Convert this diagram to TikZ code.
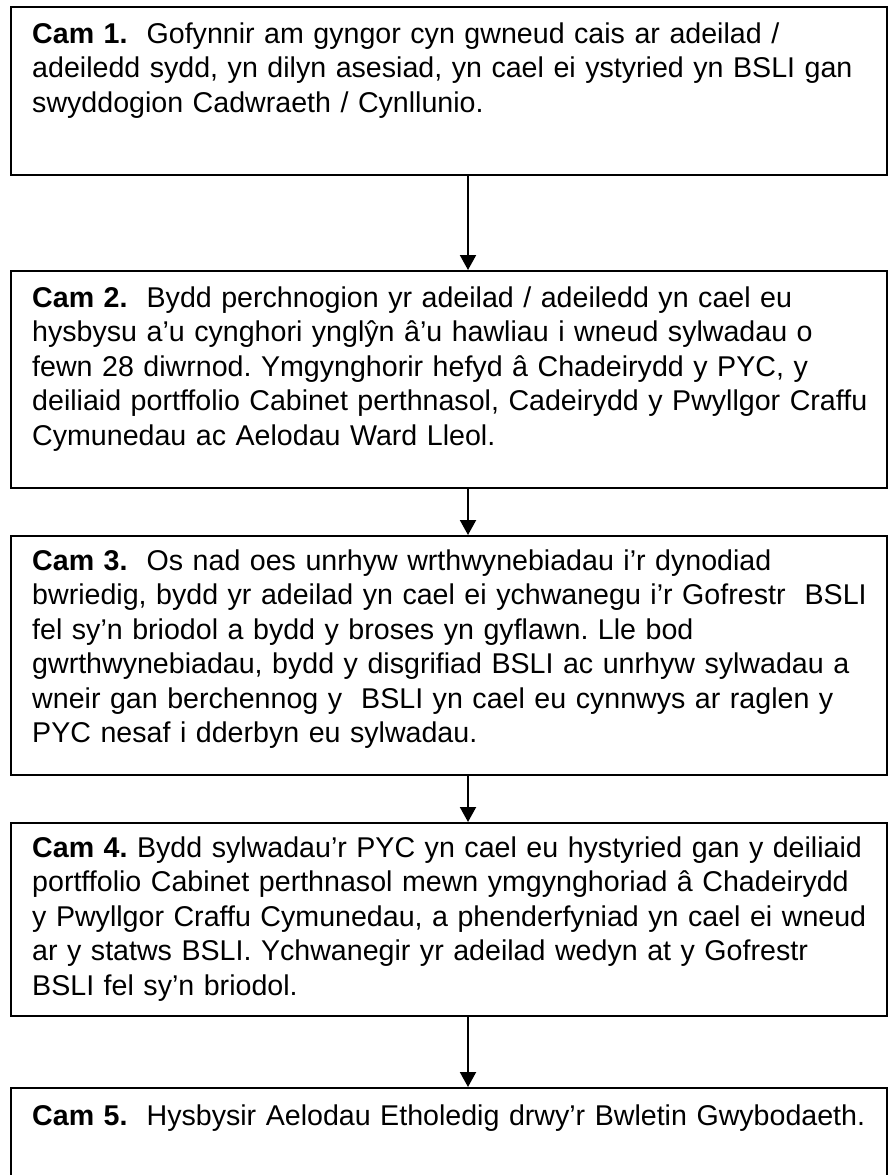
\documentclass[tikz,border=0pt]{standalone}
\usepackage{fontspec}
\setmainfont{Liberation Sans}
\usetikzlibrary{arrows.meta, positioning}
\tikzset{
  stepbox/.style={draw, line width=2pt, minimum width=876pt, anchor=north west, inner sep=0pt},
  steptext/.style={anchor=base west, text width=850pt, align=left, inner sep=0pt,
    font=\fontsize{28.6}{34.5}\selectfont\frenchspacing},
  flow/.style={line width=2pt, -{Triangle[length=15pt,width=16pt]}}
}
\newcommand{\cam}[1]{\textbf{Cam #1.}}

\begin{document}
\begin{tikzpicture}[x=1pt,y=-1pt]
\useasboundingbox (0,0) rectangle (888,1175);
% the five boxes
\node[stepbox, minimum height=168pt] (box1) at (10,6) {};
\node[stepbox, minimum height=217pt] (box2) at (10,270) {};
\node[stepbox, minimum height=239pt] (box3) at (10,535) {};
\node[stepbox, minimum height=193pt] (box4) at (10,822) {};
\node[stepbox, minimum height=120pt] (box5) at (10,1087) {};
% their texts
\node[steptext] (text1) at (32,43) {\cam{1}\ \ Gofynnir am gyngor cyn gwneud cais ar adeilad /\\
adeiledd sydd, yn dilyn asesiad, yn cael ei ystyried yn BSLI gan\\
swyddogion Cadwraeth / Cynllunio.};
\node[steptext] (text2) at (32,307) {\cam{2}\ \ Bydd perchnogion yr adeilad / adeiledd yn cael eu\\
hysbysu a’u cynghori ynglŷn â’u hawliau i wneud sylwadau o\\
fewn 28 diwrnod. Ymgynghorir hefyd â Chadeirydd y PYC, y\\
deiliaid portffolio Cabinet perthnasol, Cadeirydd y Pwyllgor Craffu\\
Cymunedau ac Aelodau Ward Lleol.};
\node[steptext] (text3) at (32,570) {\cam{3}\ \ Os nad oes unrhyw wrthwynebiadau i’r dynodiad\\
bwriedig, bydd yr adeilad yn cael ei ychwanegu i’r Gofrestr\ \ BSLI\\
fel sy’n briodol a bydd y broses yn gyflawn. Lle bod\\
gwrthwynebiadau, bydd y disgrifiad BSLI ac unrhyw sylwadau a\\
wneir gan berchennog y\ \ BSLI yn cael eu cynnwys ar raglen y\\
PYC nesaf i dderbyn eu sylwadau.};
\node[steptext] (text4) at (32,857) {\cam{4} Bydd sylwadau’r PYC yn cael eu hystyried gan y deiliaid\\
portffolio Cabinet perthnasol mewn ymgynghoriad â Chadeirydd\\
y Pwyllgor Craffu Cymunedau, a phenderfyniad yn cael ei wneud\\
ar y statws BSLI. Ychwanegir yr adeilad wedyn at y Gofrestr\\
BSLI fel sy’n briodol.};
\node[steptext] (text5) at (32,1125) {\cam{5}\ \ Hysbysir Aelodau Etholedig drwy’r Bwletin Gwybodaeth.};
% arrows
\draw[flow] ([xshift=19pt]box1.south) -- ([xshift=19pt]box2.north);
\draw[flow] ([xshift=19pt]box2.south) -- ([xshift=19pt]box3.north);
\draw[flow] ([xshift=19pt]box3.south) -- ([xshift=19pt]box4.north);
\draw[flow] ([xshift=19pt]box4.south) -- ([xshift=19pt]box5.north);
\end{tikzpicture}
\end{document}
